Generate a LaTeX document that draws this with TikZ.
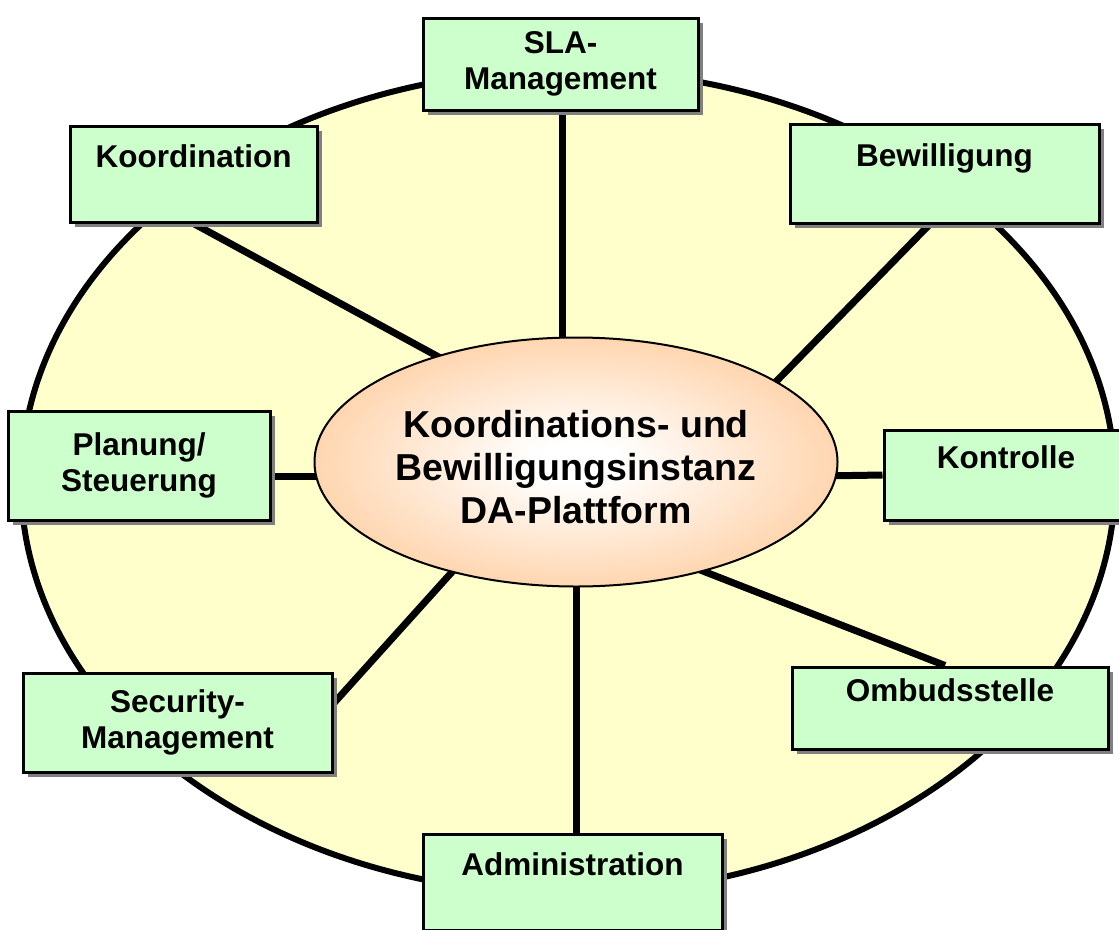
\documentclass[tikz,border=0pt]{standalone}
\usepackage{fontspec}
\setmainfont{Liberation Sans}
\usetikzlibrary{shapes.geometric,shadows}
\definecolor{boxgreen}{HTML}{CCFFCC}
\definecolor{bgyellow}{HTML}{FFFFCC}
\definecolor{ellorange}{HTML}{FFC896}
\pgfdeclareradialshading{cball}{\pgfpoint{0bp}{0bp}}{color(0bp)=(white); color(4bp)=(white); color(32bp)=(ellorange); color(50bp)=(ellorange)}
\pgfdeclarelayer{bg}
\pgfdeclarelayer{lines}
\pgfsetlayers{bg,lines,main}
\begin{document}
\begin{tikzpicture}[x=1pt,y=-1pt,
  box/.style={draw, line width=3pt, fill=boxgreen, align=center, inner sep=0pt,
    font=\fontsize{31.5}{36}\selectfont\bfseries,
    drop shadow={shadow xshift=5pt, shadow yshift=-5pt, fill=black!50, opacity=1}},
  conn/.style={line width=7pt}]
\useasboundingbox (0,0) rectangle (1119,929);
\begin{pgfonlayer}{bg}
\node (outer) [draw, ellipse, line width=6pt, fill=bgyellow, minimum width=1094, minimum height=824, inner sep=0pt] at (568,482) {};
\end{pgfonlayer}
% centre
\node (c) [draw, ellipse, line width=2pt, shading=cball, minimum width=523, minimum height=249, inner sep=0pt] at (576,462) {};
\node (ct) [font=\fontsize{37.5}{43}\selectfont\bfseries, align=center] at (576,467) {Koordinations- und\\Bewilligungsinstanz\\DA-Plattform};
% boxes
\node (sla) [box, minimum width=275, minimum height=92] at (560.5,64) {SLA-\\Management};
\node (koord) [box, minimum width=247, minimum height=96] at (193.5,174) {Koordination\\\phantom{X}};
\node (bew) [box, minimum width=309, minimum height=99] at (944.5,173.5) {Bewilligung\\\phantom{X}};
\node (plan) [box, minimum width=262, minimum height=109] at (139,465.5) {Planung/\\Steuerung};
\node (kon) [box, minimum width=244, minimum height=90] at (1006,475) {Kontrolle\\\phantom{X}};
\node (sec) [box, minimum width=309, minimum height=99] at (177.5,722.5) {Security-\\Management};
\node (omb) [box, minimum width=316, minimum height=82] at (950,708) {Ombudsstelle\\\phantom{X}};
\node (adm) [box, minimum width=299, minimum height=96] at (572.5,882) {Administration\\\phantom{X}};
% connector ends inside the centre ellipse
\coordinate (eKo) at (470,374);
\coordinate (eBe) at (760,398);
\coordinate (eP) at (340,476);
\coordinate (eKn) at (820,476);
\coordinate (eS) at (470,552);
\coordinate (eO) at (690,566);
\begin{pgfonlayer}{lines}
\draw[conn] ([xshift=1.5pt]sla.south) -- ([xshift=1.5pt]sla.south |- c.center);
\draw[conn] (koord.south) -- (eKo);
\draw[conn] ([xshift=-15pt]bew.south) -- (eBe);
\draw[conn] ([yshift=-10.5pt]plan.east) -- (eP);
\draw[conn] (kon.west) -- (eKn);
\draw[conn] ([yshift=19pt]sec.east) -- (eS);
\draw[conn] ([xshift=-5pt]omb.north) -- (eO);
\draw[conn] ([xshift=3.5pt]adm.north) -- ([xshift=3.5pt]adm.north |- c.center);
\end{pgfonlayer}
\end{tikzpicture}
\end{document}
